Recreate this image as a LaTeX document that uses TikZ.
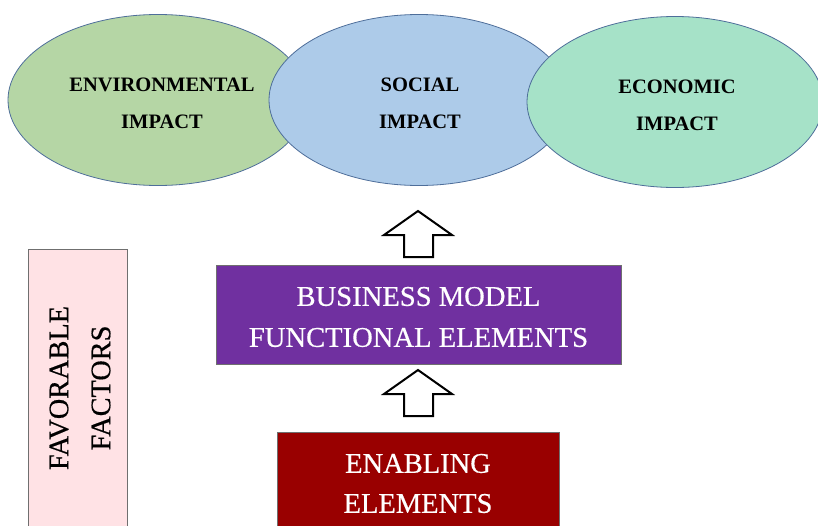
\documentclass[tikz,border=0pt]{standalone}
\usepackage{fontspec}
\setmainfont{Liberation Serif}
\newfontfamily\boxfont[FakeBold=0.5]{Liberation Serif}
\usetikzlibrary{shapes.geometric}
\definecolor{envfill}{HTML}{B5D6A5}
\definecolor{socfill}{HTML}{ADCBE9}
\definecolor{ecofill}{HTML}{A6E2C8}
\definecolor{ellline}{HTML}{4E6E9A}
\definecolor{bmfill}{HTML}{7030A0}
\definecolor{enfill}{HTML}{990000}
\definecolor{favfill}{HTML}{FFE2E5}
\definecolor{boxline}{HTML}{6F6F6F}
\tikzset{
  impact/.style={ellipse, draw=ellline, line width=0.8pt, minimum width=300pt, minimum height=171pt, inner sep=0pt},
  impacttext/.style={align=center, font=\fontsize{20.5}{37}\selectfont\bfseries, text=black, inner sep=0pt},
  whitebox/.style={draw=boxline, line width=0.8pt, inner sep=0pt, text=white, align=center},
  blockup/.pic={\draw[line width=2pt, line join=miter, fill=white] (0,0) -- (34,24) -- (15,24) -- (15,46) -- (-14,46) -- (-14,24) -- (-34,24) -- cycle;}
}
\begin{document}
\begin{tikzpicture}[x=1pt, y=-1pt]
\clip (0,0) rectangle (818,525);
\fill[white] (0,0) rectangle (818,525);
% ellipses
\node[impact, fill=envfill] (env) at (158,100) {};
\node[impact, fill=socfill] (soc) at (419,100) {};
\node[impact, fill=ecofill, minimum width=296pt] (eco) at (675,102) {};
\node[impacttext] (envt) at (162,103.5) {ENVIRONMENTAL\\IMPACT};
\node[impacttext] (soct) at (420,103.5) {SOCIAL\\IMPACT};
\node[impacttext] (ecot) at (677,105.5) {ECONOMIC\\IMPACT};
% boxes
\node[whitebox, fill=bmfill, minimum width=405pt, minimum height=99pt] (bm) at (418.5,314.5) {};
\node[align=center, inner sep=0pt, text=white, font=\boxfont\fontsize{28.6}{41}\selectfont] (bmt) at (418.5,317) {BUSINESS MODEL\\FUNCTIONAL ELEMENTS};
\node[whitebox, fill=enfill, minimum width=282pt, minimum height=101pt] (en) at (418,482.5) {};
\node[align=center, inner sep=0pt, text=white, font=\boxfont\fontsize{28.5}{40}\selectfont] (ent) at (418,483.5) {ENABLING\\ELEMENTS};
\node[draw=boxline, line width=0.8pt, fill=favfill, minimum width=99pt, minimum height=278pt, inner sep=0pt] (fav) at (77.5,388) {};
\node[rotate=90, align=center, inner sep=0pt, font=\boxfont\fontsize{28.3}{42}\selectfont, text=black] (favt) at (80,388) {FAVORABLE\\FACTORS};
% block arrows
\pic at (418,211) {blockup};
\pic at (418,370) {blockup};
\end{tikzpicture}
\end{document}
